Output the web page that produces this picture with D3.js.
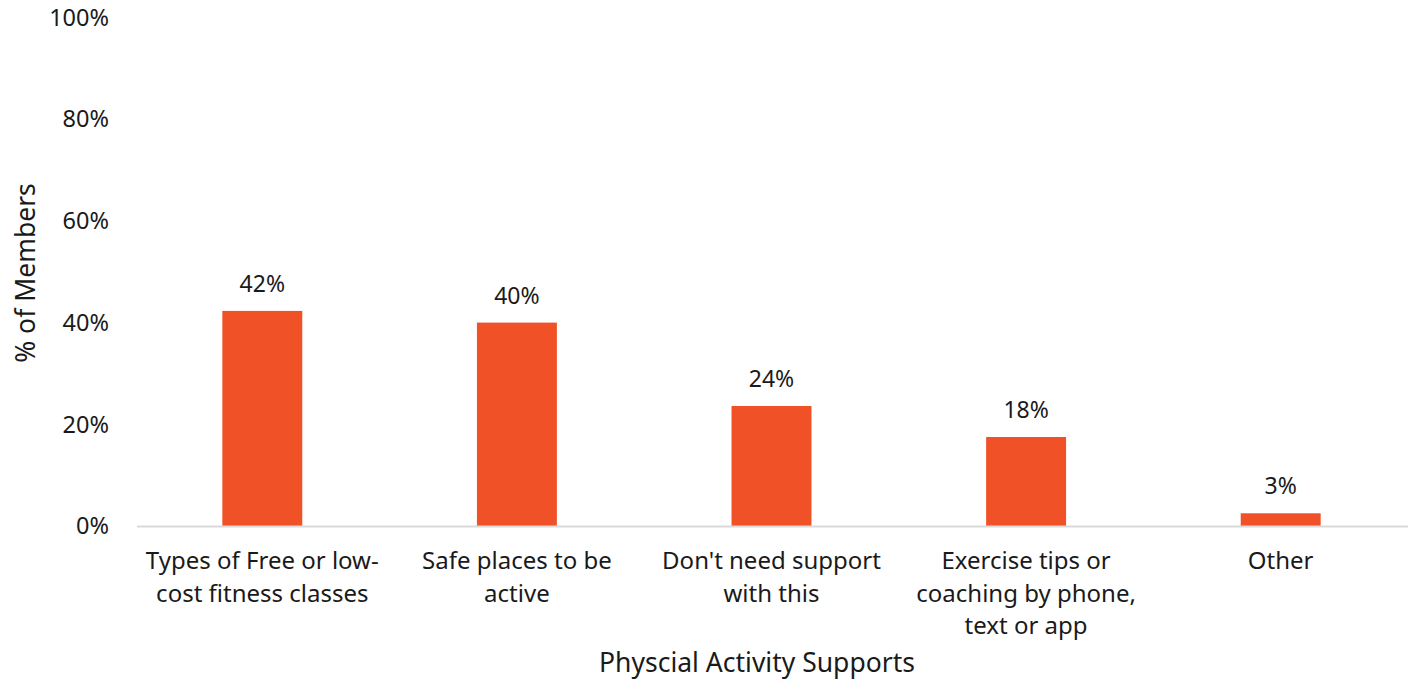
<!DOCTYPE html>
<html><head><meta charset="utf-8">
<script src="https://cdn.jsdelivr.net/npm/d3@7"></script>
<style>
html,body{margin:0;padding:0;background:#fff;}
text{font-family:"Noto Sans","Open Sans",sans-serif;fill:#1a1a1a;}
</style></head><body>
<svg id="chart" width="1408" height="680"></svg>
<script>
const categories = ["Types of Free or low-cost fitness classes","Safe places to be active","Don't need support with this","Exercise tips or coaching by phone, text or app","Other"];
const categoryLines = [["Types of Free or low-","cost fitness classes"],["Safe places to be","active"],["Don't need support","with this"],["Exercise tips or","coaching by phone,","text or app"],["Other"]];
const values = [42.3, 40.0, 23.6, 17.5, 2.5];
const valueLabels = ["42%","40%","24%","18%","3%"];
const yTicks = [0,20,40,60,80,100];
const xTitle = "Physcial Activity Supports";
const yTitle = "% of Members";

const svg = d3.select("#chart");
const x = d3.scaleBand().domain(categories).range([135,1408]).paddingInner(0.686).paddingOuter(0.343);
const y = d3.scaleLinear().domain([0,100]).range([526,17.5]);

// y tick labels
svg.append("g").selectAll("text").data(yTicks).join("text")
  .attr("x",109).attr("y",d=>y(d)).attr("dy","0.35em")
  .attr("text-anchor","end").attr("font-size",23.5)
  .text(d=>d+"%");

// bars
svg.append("g").selectAll("rect").data(values).join("rect")
  .attr("x",(d,i)=>x(categories[i])).attr("width",x.bandwidth())
  .attr("y",d=>y(d)).attr("height",d=>y(0)-y(d))
  .attr("fill","#F05127");

// axis line
svg.append("line").attr("x1",137).attr("x2",1408).attr("y1",y(0)+0.5).attr("y2",y(0)+0.5)
  .attr("stroke","#d9d9d9").attr("stroke-width",2);

// value labels
svg.append("g").selectAll("text").data(values).join("text")
  .attr("x",(d,i)=>x(categories[i])+x.bandwidth()/2)
  .attr("y",d=>y(d)-19)
  .attr("text-anchor","middle").attr("font-size",23)
  .text((d,i)=>valueLabels[i]);

// category labels
const cl = svg.append("g").selectAll("text").data(categories).join("text")
  .attr("x",d=>x(d)+x.bandwidth()/2).attr("y",569)
  .attr("text-anchor","middle").attr("font-size",24);
cl.each(function(d,i){
  d3.select(this).selectAll("tspan").data(categoryLines[i]).join("tspan")
    .attr("x",x(d)+x.bandwidth()/2).attr("dy",(t,j)=>j===0?0:32.5).text(t=>t);
});

// axis titles
svg.append("text").attr("x",757).attr("y",672).attr("text-anchor","middle").attr("font-size",26.5).text(xTitle);
svg.append("text").attr("transform","translate(35,273) rotate(-90)").attr("text-anchor","middle").attr("font-size",26.5).text(yTitle);
</script></body></html>
